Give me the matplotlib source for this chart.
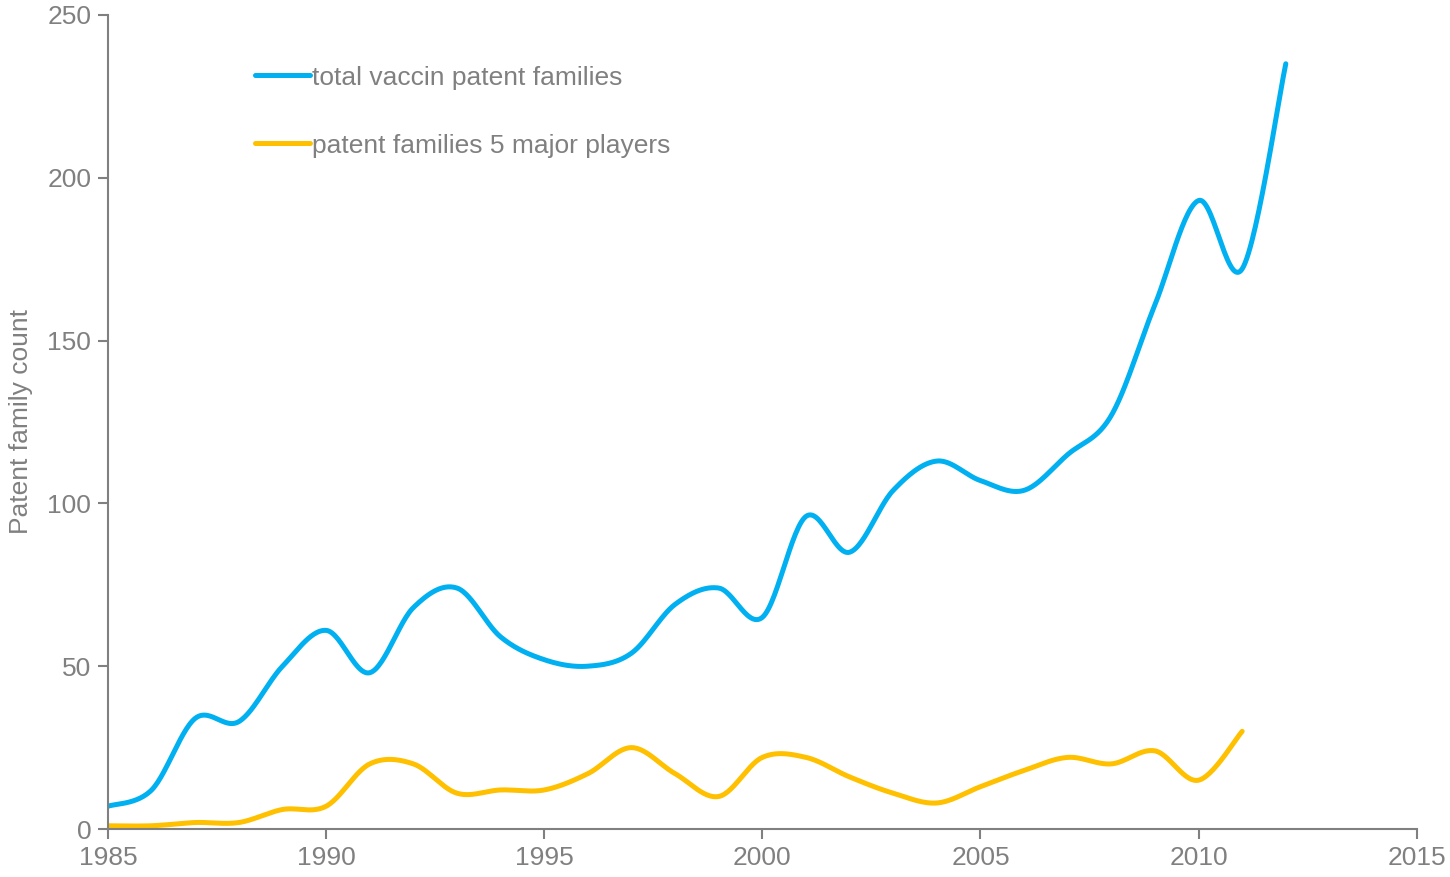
import numpy as np
import matplotlib.pyplot as plt

plt.rcParams['font.family'] = ['Liberation Sans', 'DejaVu Sans']

years_total = list(range(1985, 2013))
total = [7, 12, 34, 33, 50, 61, 48, 68, 74, 59, 52, 50, 54, 69, 74, 65,
         96, 85, 104, 113, 107, 104, 115, 127, 161, 193, 172, 235]

years_major = list(range(1985, 2012))
major = [1, 1, 2, 2, 6, 7, 20, 20, 11, 12, 12, 17, 25, 17, 10, 22,
         22, 16, 11, 8, 13, 18, 22, 20, 24, 15, 30]

GREY = '#808080'


def smooth(xs, ys, n=30):
    # Excel-style smoothed line: cubic Bezier with Catmull-Rom control points
    x = np.asarray(xs, float)
    y = np.asarray(ys, float)
    px = np.concatenate([[x[0]], x, [x[-1]]])
    py = np.concatenate([[y[0]], y, [y[-1]]])
    t = np.linspace(0, 1, n)
    outx, outy = [], []
    for i in range(1, len(px) - 2):
        p0x, p1x, p2x, p3x = px[i - 1], px[i], px[i + 1], px[i + 2]
        p0y, p1y, p2y, p3y = py[i - 1], py[i], py[i + 1], py[i + 2]
        c1x, c1y = p1x + (p2x - p0x) / 6, p1y + (p2y - p0y) / 6
        c2x, c2y = p2x - (p3x - p1x) / 6, p2y - (p3y - p1y) / 6
        bx = (1 - t) ** 3 * p1x + 3 * (1 - t) ** 2 * t * c1x + 3 * (1 - t) * t ** 2 * c2x + t ** 3 * p2x
        by = (1 - t) ** 3 * p1y + 3 * (1 - t) ** 2 * t * c1y + 3 * (1 - t) * t ** 2 * c2y + t ** 3 * p2y
        outx.extend(bx)
        outy.extend(by)
    return outx, outy


fig = plt.figure(figsize=(14.5, 8.77), dpi=100)
ax = fig.add_axes([0.0745, 0.0547, 0.9025, 0.9283])

sx, sy = smooth(years_total, total)
ax.plot(sx, sy, color='#00B0F0', lw=3.6, solid_capstyle='round', label='total vaccin patent families')
sx, sy = smooth(years_major, major)
ax.plot(sx, sy, color='#FFC000', lw=3.6, solid_capstyle='round', label='patent families 5 major players')

ax.set_xlim(1985, 2015)
ax.set_ylim(0, 250)
ax.set_xticks(range(1985, 2016, 5))
ax.set_yticks(range(0, 251, 50))

for s in ['top', 'right']:
    ax.spines[s].set_visible(False)
for s in ['left', 'bottom']:
    ax.spines[s].set_color(GREY)
    ax.spines[s].set_linewidth(1.5)
ax.tick_params(colors=GREY, labelsize=19, length=7, width=1.5, direction='out')
ax.tick_params(axis='x', pad=5)
ax.tick_params(axis='y', pad=5)
ax.set_ylabel('Patent family count', color=GREY, fontsize=19, labelpad=10)

leg = ax.legend(loc='upper left', bbox_to_anchor=(0.094, 0.967), frameon=False,
                fontsize=19, handlelength=2.08, handletextpad=0.1, labelspacing=1.67)
for txt in leg.get_texts():
    txt.set_color(GREY)

fig.savefig('out.png', dpi=100)
